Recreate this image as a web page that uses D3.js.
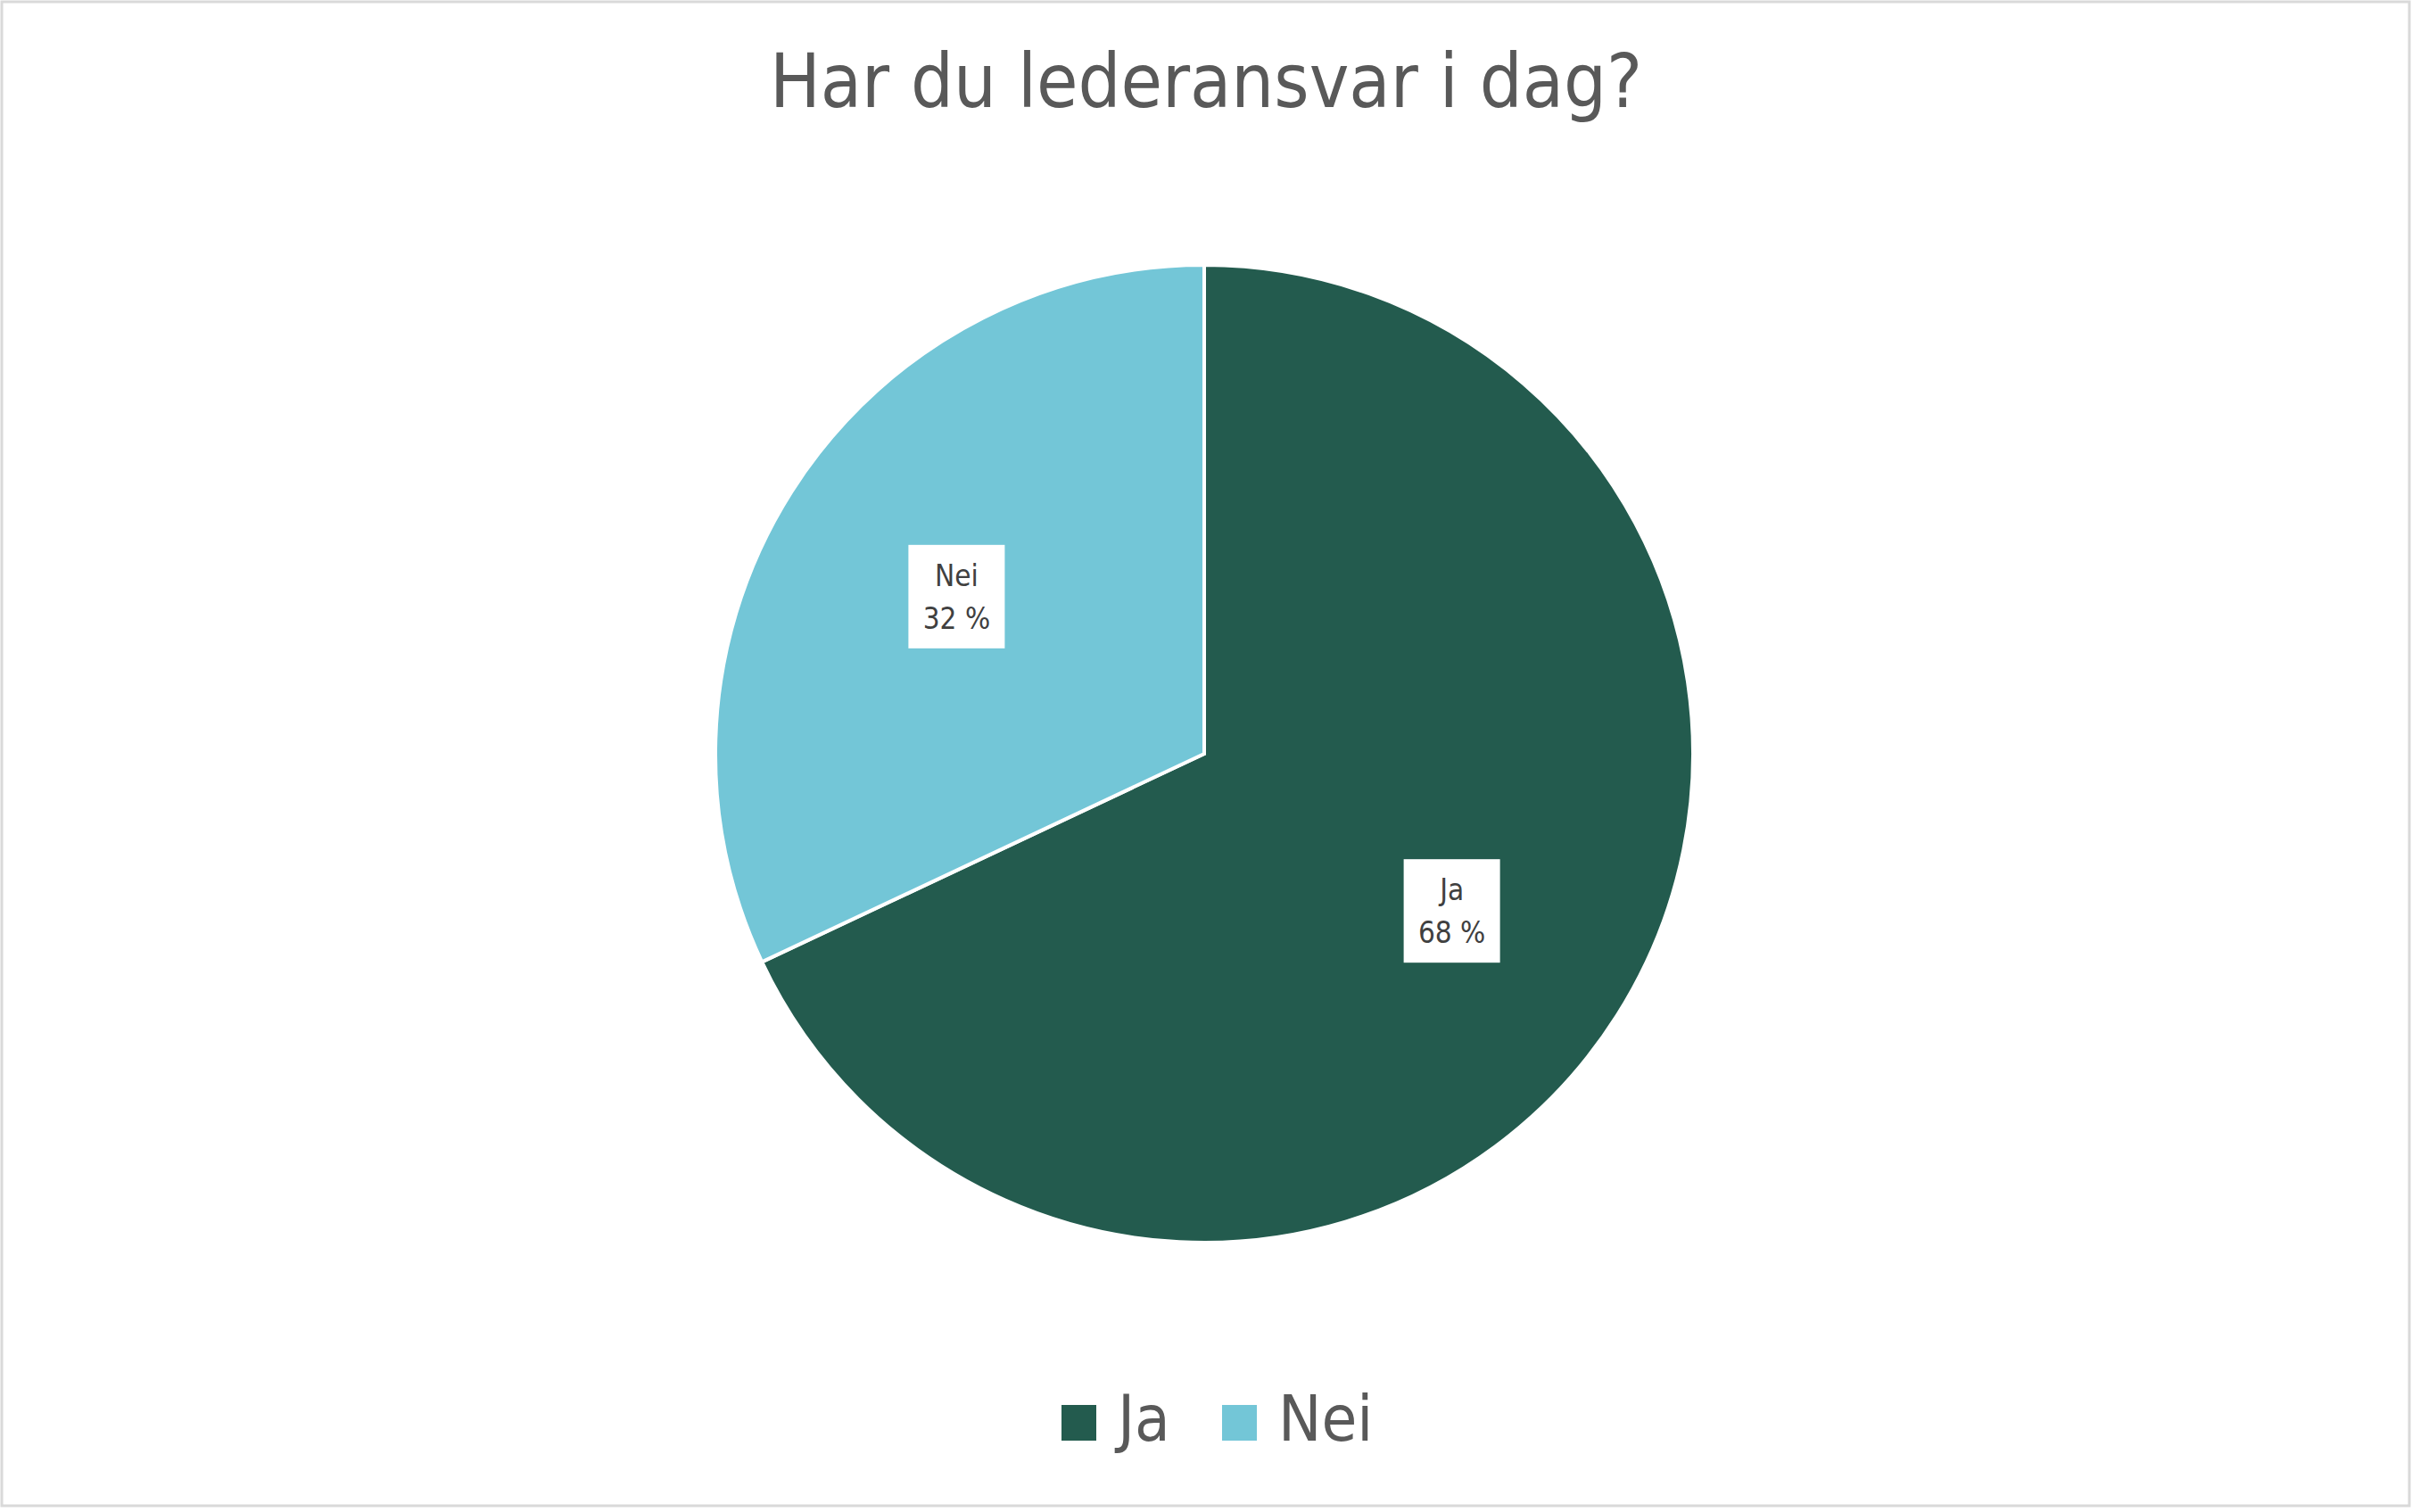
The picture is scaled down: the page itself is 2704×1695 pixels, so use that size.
<!DOCTYPE html>
<html><head><meta charset="utf-8">
<script src="https://cdn.jsdelivr.net/npm/d3@7"></script>
<style>body{margin:0;background:#fff}</style>
</head><body>
<svg width="2704" height="1695"></svg>
<script>
let categories = ["Ja", "Nei"];
let values = [68, 32];
let colors = ["#235B4E", "#73C6D7"];
let title = "Har du lederansvar i dag?";

let svg = d3.select("svg");
let font = "'Liberation Sans Narrow','DejaVu Sans Condensed','Roboto Condensed',Roboto,sans-serif";

svg.append("rect").attr("x", 2).attr("y", 2).attr("width", 2699).attr("height", 1686)
    .attr("fill", "#fff").attr("stroke", "#d9d9d9").attr("stroke-width", 3);

svg.append("text").attr("x", 1352).attr("y", 120).attr("text-anchor", "middle")
    .attr("font-family", font).attr("font-size", 84).attr("fill", "#595959").text(title);

let cx = 1350, cy = 845, r = 548;
let pie = d3.pie().sort(null).value(d => d)(values);
let arc = d3.arc().innerRadius(0).outerRadius(r);
let g = svg.append("g").attr("transform", `translate(${cx},${cy})`);

g.selectAll("path").data(pie).enter().append("path")
    .attr("d", arc).attr("fill", (d, i) => colors[i])
    .attr("stroke", "#fff").attr("stroke-width", 4);

let labelArc = d3.arc().innerRadius(r * 0.6).outerRadius(r * 0.6);
let lab = g.selectAll(".lab").data(pie).enter().append("g")
    .attr("transform", d => `translate(${labelArc.centroid(d)})`);
lab.append("rect").attr("x", -54).attr("y", -58).attr("width", 108).attr("height", 116).attr("fill", "#fff");
lab.append("text").attr("text-anchor", "middle").attr("y", -12)
    .attr("font-family", font).attr("font-size", 33).attr("fill", "#404040")
    .text((d, i) => categories[i]);
lab.append("text").attr("text-anchor", "middle").attr("y", 36)
    .attr("font-family", font).attr("font-size", 33).attr("fill", "#404040")
    .text(d => d.data + " %");

let legX = [1190, 1370];
let leg = svg.selectAll(".leg").data(categories).enter().append("g")
    .attr("transform", (d, i) => `translate(${legX[i]},1575)`);
leg.append("rect").attr("width", 39).attr("height", 40).attr("fill", (d, i) => colors[i]);
leg.append("text").attr("x", 63).attr("y", 40).attr("font-family", font)
    .attr("font-size", 72).attr("fill", "#595959").text(d => d);
</script>
</body></html>
